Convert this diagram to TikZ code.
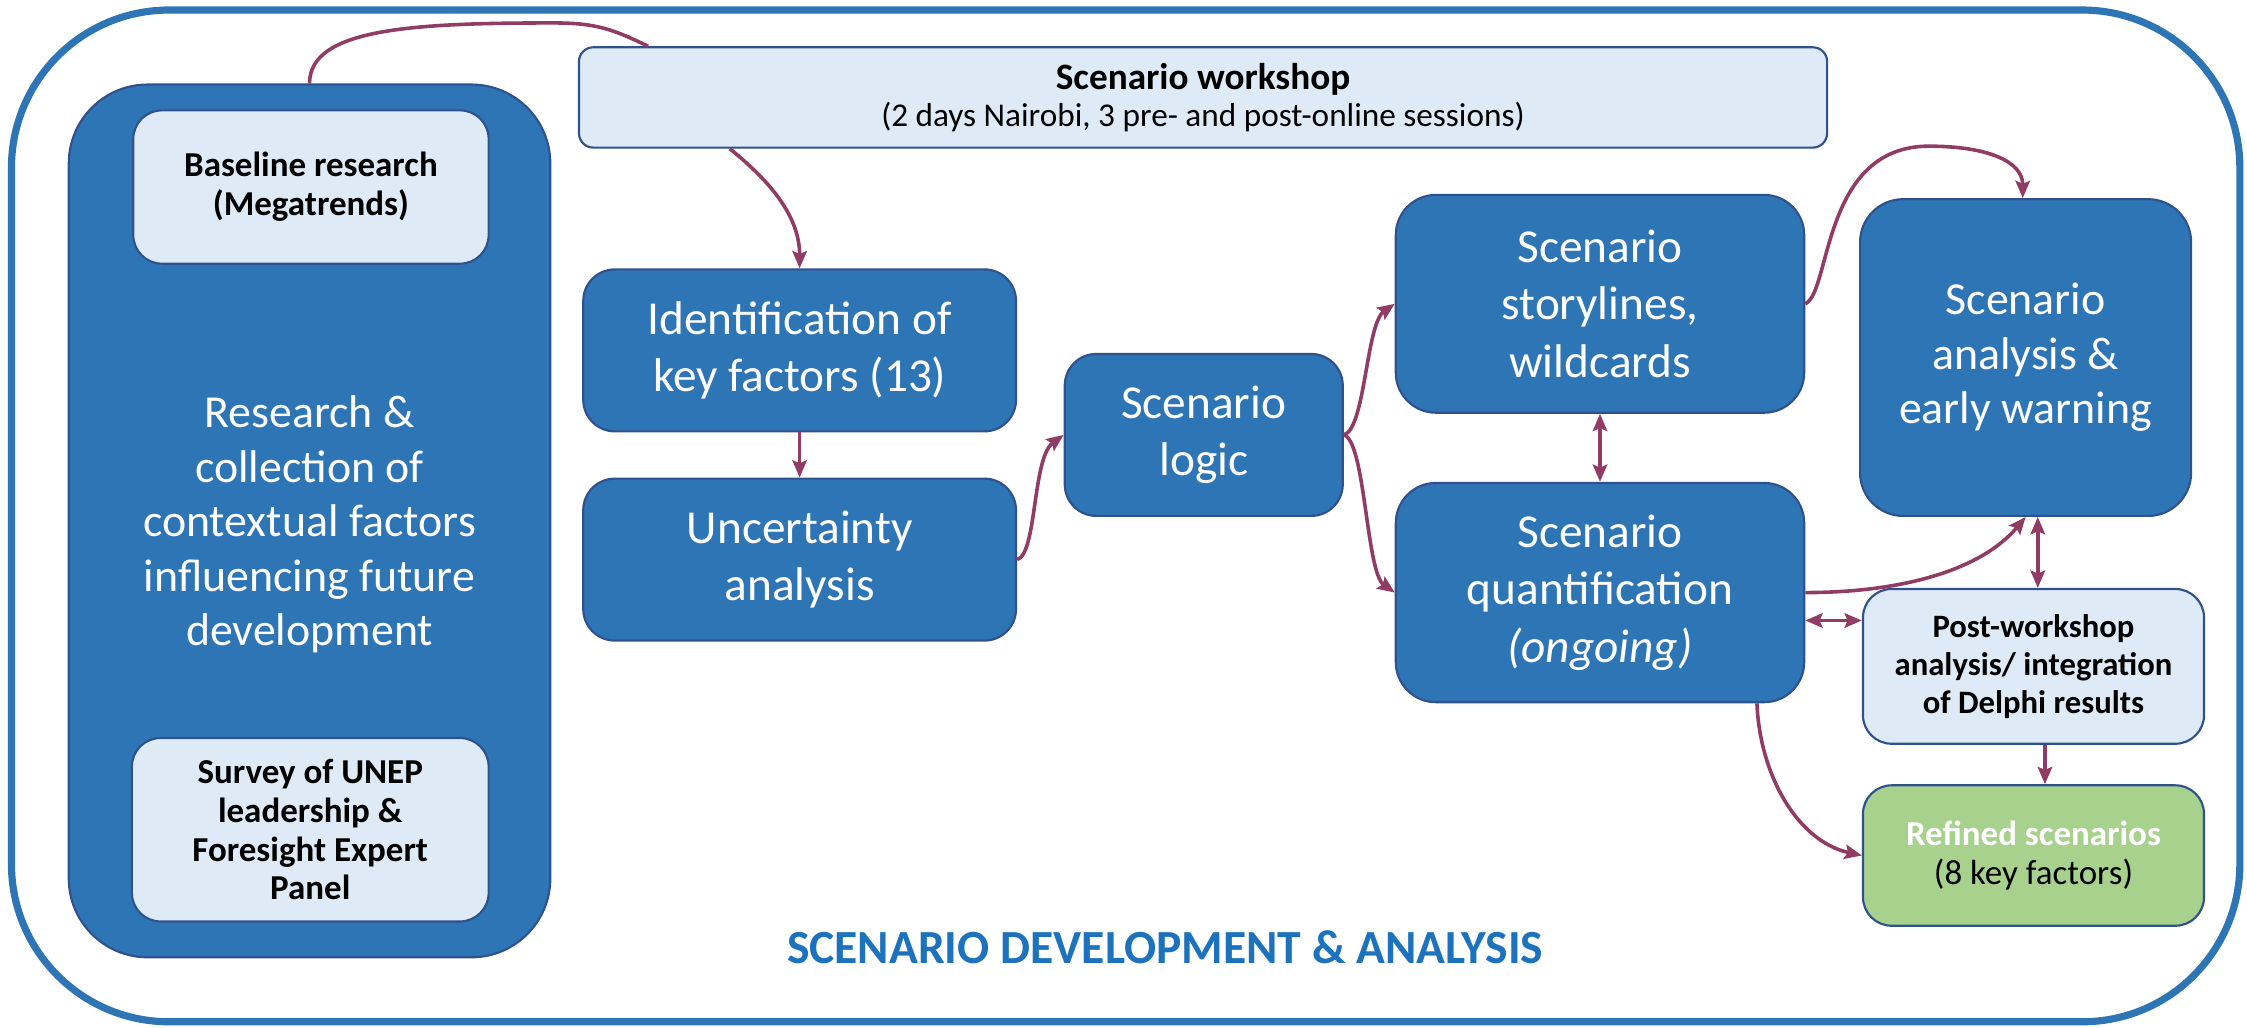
\documentclass[tikz,border=0pt]{standalone}
\usepackage{fontspec}
\setmainfont{Carlito}
\usetikzlibrary{arrows.meta,calc}
\definecolor{bfill}{HTML}{2E75B6}
\definecolor{bdraw}{HTML}{2F528F}
\definecolor{lfill}{HTML}{DEEBF7}
\definecolor{gfill}{HTML}{A9D18E}
\definecolor{conncol}{HTML}{913C64}
\definecolor{titleblue}{HTML}{1C72BD}
\begin{document}
\begin{tikzpicture}[x=0.5pt,y=-0.5pt,
  bluebox/.style={draw=bdraw, line width=0.75pt, fill=bfill, text=white, rounded corners=11pt,
    align=center, inner sep=0pt, font=\fontsize{16.5}{20}\selectfont},
  lightbox/.style={draw=bdraw, line width=0.75pt, fill=lfill, text=black, rounded corners=10pt,
    align=center, inner sep=0pt, font=\bfseries\fontsize{12.2}{13.5}\selectfont},
  greenbox/.style={lightbox, fill=gfill},
  arr/.style={draw=conncol, line width=1.25pt, -{Stealth[length=6pt,width=5pt,inset=1pt]}},
  darr/.style={draw=conncol, line width=1.25pt, {Stealth[length=6pt,width=5pt,inset=1pt]}-{Stealth[length=6pt,width=5pt,inset=1pt]}},
  plainconn/.style={draw=conncol, line width=1.25pt}
]
\useasboundingbox (0,0) rectangle (1568,716.7);
% outer frame
\draw[draw=bfill, line width=2.5pt, rounded corners=55pt] (8,7) rectangle (1563,713);

% left column
\node[bluebox, rounded corners=27.5pt, minimum width=168pt, minimum height=304.5pt] (left) at (216,363.5) {};
\node[text=white, align=center, font=\fontsize{16}{19}\selectfont] (lefttxt) at (216,366)
  {Research \&\\collection of\\contextual factors\\influencing future\\development};
\node[lightbox, minimum width=124pt, minimum height=53.5pt] (base) at (217,130.5)
  {Baseline research\\(Megatrends)};
\node[lightbox, minimum width=124.5pt, minimum height=64pt] (survey) at (216.5,579)
  {Survey of UNEP\\leadership \&\\Foresight Expert\\Panel};

% workshop
\node[lightbox, rounded corners=5pt, minimum width=435.5pt, minimum height=35pt,
  font=\fontsize{11.6}{13}\selectfont] (ws) at (839.5,68)
  {{\bfseries\fontsize{13}{13}\selectfont Scenario workshop}\\(2 days Nairobi, 3 pre- and post-online sessions)};

% main flow
\node[bluebox, minimum width=151pt, minimum height=56.5pt] (ident) at (558,244.5)
  {Identification of\\key factors (13)};
\node[bluebox, minimum width=151pt, minimum height=56.5pt] (uncert) at (558,390.5)
  {Uncertainty\\analysis};
\node[bluebox, minimum width=97pt, minimum height=56.5pt] (logic) at (840,303.5)
  {Scenario\\logic};
\node[bluebox, rounded corners=14pt, minimum width=142.5pt, minimum height=76pt] (story) at (1116.5,212)
  {Scenario\\storylines,\\wildcards};
\node[bluebox, rounded corners=14pt, minimum width=142.5pt, minimum height=76.5pt] (quant) at (1116.5,413.5)
  {Scenario\\quantification\\\textit{(ongoing)}};
\node[bluebox, rounded corners=15pt, minimum width=115.5pt, minimum height=110.5pt,
  font=\fontsize{16}{19}\selectfont] (anal) at (1413.5,249.5)
  {Scenario\\analysis \&\\early warning};
\node[lightbox, minimum width=119pt, minimum height=54pt,
  font=\bfseries\fontsize{11.4}{13.25}\selectfont] (post) at (1419,465)
  {Post-workshop\\analysis/ integration\\of Delphi results};
\node[greenbox, minimum width=119pt, minimum height=49pt,
  font=\fontsize{12.2}{13.5}\selectfont] (refined) at (1419,597)
  {{\bfseries\color{white}Refined scenarios}\\(8 key factors)};

\node[text=titleblue, font=\bfseries\fontsize{16.6}{20}\selectfont] (title) at (813,661)
  {SCENARIO DEVELOPMENT \& ANALYSIS};

% connectors
\draw[plainconn] (left.north) .. controls +(0,-38) and +(-100,0) .. (386,16)
  .. controls +(30,0) and +(-25,-12) .. ($(ws.north west)+(49,0)$);
\draw[arr] ($(ws.south west)+(106,0)$) .. controls +(22,18) and +(0,-40) .. (ident.north);
\draw[arr] (ident.south) -- (uncert.north);
\draw[arr] (uncert.east) .. controls +(14,-4) and +(-22,16) .. (logic.west);
\draw[arr] (logic.east) .. controls +(15,-4) and +(-20,14) .. (story.west);
\draw[arr] (logic.east) .. controls +(15,4) and +(-20,-14) .. (quant.west);
\draw[darr] (story.south) -- (quant.north);
\draw[arr] (story.east) .. controls +(18,-8) and +(-75,0) .. (1346,102)
  .. controls +(40,0) and +(0,-26) .. ($(anal.north)+(-2,0)$);
\draw[arr] (quant.east) .. controls +(70,0) and +(-30,36) .. (anal.south);
\draw[darr] ($(anal.south)+(8.5,0)$) -- ($(post.north)+(3,0)$);
\draw[darr] ($(quant.east)+(0,19.5)$) -- ($(post.west)+(0,-32)$);
\draw[arr] ($(post.south)+(8,0)$) -- ($(refined.north)+(8,0)$);
\draw[arr] ($(quant.south)+(109.5,0)$) .. controls +(2,50) and +(-45,-10) .. (refined.west);
\end{tikzpicture}
\end{document}
